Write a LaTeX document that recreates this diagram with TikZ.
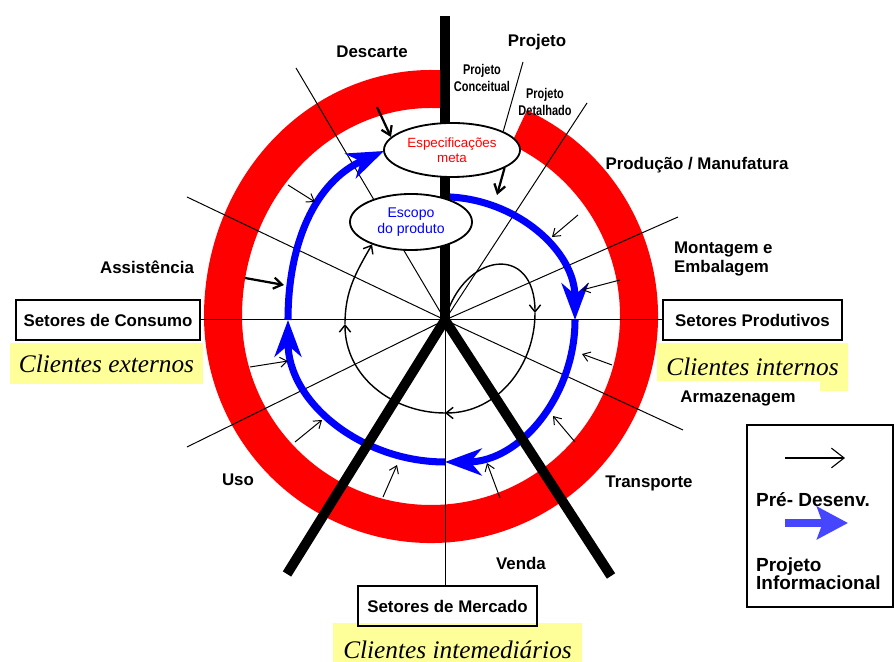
\documentclass[tikz,border=0pt]{standalone}
\usepackage{fontspec}
\setmainfont{Liberation Sans}
\newfontfamily\clientefont{Liberation Serif}
\newfontfamily\estreita[FakeStretch=0.78]{Liberation Sans}
\usetikzlibrary{%
  arrows.meta,%
  shapes.geometric,% wg. ellipse
  calc%
}
\definecolor{realce}{RGB}{255,255,153}
\definecolor{azul}{RGB}{0,0,255}
\definecolor{azulleg}{RGB}{70,70,255}

\begin{document}
\begin{tikzpicture}[
  x=0.025cm, y=0.025cm,
  font=\fontsize{12}{14}\selectfont\bfseries,
  line width=0.7pt,
  setor/.style={draw, line width=1.6pt, minimum height=1cm, inner sep=0pt},
  cliente/.style={fill=realce, inner sep=0pt, font=\fontsize{18}{20}\selectfont\clientefont\itshape},
  raio/.style={line width=0.7pt},
  haste/.style={line width=7pt},
  balao/.style={ellipse, draw, fill=white, line width=1.3pt, inner sep=0pt, align=center},
  pre/.style={-{Straight Barb[length=5pt,width=7pt]}, line width=0.7pt},
  preforte/.style={-{Straight Barb[length=6pt,width=8pt]}, line width=1.6pt},
  info/.style={azul, line width=5pt, -{Stealth[length=26pt,width=19pt,inset=8pt]}},
  laco/.style={line width=1pt, -{Straight Barb[length=5pt,width=8pt]}},
  fase/.style={font=\fontsize{10}{11.4}\selectfont\estreita\bfseries, align=center},
]
\useasboundingbox (0,0) rectangle (895,662);

% clientes
\node[cliente, minimum width=4.825cm, minimum height=1.025cm] (cliext) at (106.5,298.5) {Clientes externos};
\node[cliente, minimum width=4.775cm, minimum height=1.2cm] (cliint) at (752.5,295) {Clientes internos};
\node[cliente, minimum width=6.225cm, minimum height=1.35cm] (climed) at (457.5,12) {Clientes intemediários};
\node[fill=white, inner xsep=17pt, inner ysep=7pt] (armaz) at (738,264) {Armazenagem};

% anel vermelho
\fill[red] (431,346) ++(65:227) arc[start angle=65, end angle=-180, radius=227]
  -- ++(38,0) arc[start angle=-180, end angle=65, radius=189] -- cycle;
\fill[red] (204,346) arc[start angle=180, end angle=86, x radius=227, y radius=246]
  -- ($(431,346)+(86:189 and 208)$) arc[start angle=86, end angle=180, x radius=189, y radius=208] -- cycle;

% setores
\node[setor, minimum width=4.6cm] (consumo) at (108,342) {Setores de Consumo};
\node[setor, minimum width=4.475cm] (produtivos) at (752.5,342) {Setores Produtivos};
\node[setor, minimum width=4.475cm] (mercado) at (447.5,56) {Setores de Mercado};

% raios
\coordinate (o) at (445,342);
\draw[raio] (consumo) -- (produtivos);
\draw[raio] (o) -- (o |- mercado.north);
\foreach \px/\py in {296/594, 587/559, 678/445, 187/465, 187/215, 683/232} {
  \draw[raio] (o) -- (\px,\py);
}

% projeto informacional
\coordinate (b0) at (450,465);
\coordinate (b1) at (575,342);
\coordinate (b2) at (445,200);
\coordinate (b3) at (288,342);
\coordinate (b4) at (384,511);
\draw[info] (b0) to[out=-3,in=90] (b1);
\draw[info] (b1) to[out=-90,in=0] (b2);
\draw[info] (b2) to[out=180,in=-90] (b3);
\draw[info] (b3) to[out=90,in=204] (b4);

% hastes
\coordinate (topo) at (445,646);
\coordinate (pernaE) at (287,88);
\coordinate (pernaD) at (611,86);
\draw[haste] (pernaE) -- (o) -- (pernaD);
\draw[haste] (topo) -- (o);

% baloes
\node[balao, text=red, minimum width=3.4cm, minimum height=1.35cm,
  font=\fontsize{9.5}{10.7}\selectfont] (espec) at (452,512) {Especificações\\meta};
\node[balao, text=azul, minimum width=3.05cm, minimum height=1.4cm,
  font=\fontsize{10}{11.4}\selectfont] (escopo) at (411,440) {Escopo\\do produto};

\coordinate (pj) at (523,600);
\draw[raio] (pj) -- (espec.20);

% pre-desenvolvimento
\coordinate (l1) at (535,349);
\coordinate (l2) at (445,249);
\coordinate (l3) at (345,338);
\draw[laco] (o) to[out=75,in=90,looseness=2] (l1);
\draw[laco] (l1) to[out=-90,in=0] (l2);
\draw[laco] (l2) to[out=180,in=-90] (l3);
\draw[laco] (l3) to[out=90,in=240] (escopo.-150);

\draw[preforte] (377,555) -- (espec.168);
\draw[preforte] (espec.-19) -- (497,467);
\draw[preforte] (245,384) -- (284,377);
\foreach \ini/\fim in {{578,447}/{552,425}, {620,382}/{582,372}, {612,297}/{582,308},
  {575,220}/{553,246}, {500,164}/{487,199}, {383,165}/{397,197},
  {295,220}/{322,242}, {250,295}/{288,301}, {288,477}/{315,460}} {
  \draw[pre] (\ini) -- (\fim);
}

% rotulos
\node (descarte) at (372,610) {Descarte};
\node (projeto) at (537,620) {Projeto};
\node[fase] (conceitual) at (482,584) {Projeto\\Conceitual};
\node[fase] (detalhado) at (545,560) {Projeto\\Detalhado};
\node (producao) at (697,497) {Produção / Manufatura};
\node[anchor=west, align=left] (montagem) at (669,403) {Montagem e\\Embalagem};
\node (transporte) at (649,179) {Transporte};
\node (venda) at (521,99) {Venda};
\node (uso) at (238,182) {Uso};
\node (assist) at (147,395) {Assistência};

% legenda
\node[draw, line width=1.6pt, minimum width=3.65cm, minimum height=4.55cm] (legenda) at (820,146) {};
\coordinate (lpa) at (785,204);
\coordinate (lpb) at (845,204);
\coordinate (lia) at (785,139);
\coordinate (lib) at (848,139);
\draw[line width=0.8pt, -{Straight Barb[length=9pt,width=14pt]}] (lpa) -- (lpb);
\draw[azulleg, line width=5pt, -{Stealth[length=22pt,width=23pt,inset=4pt]}] (lia) -- (lib);
\node[anchor=west, font=\fontsize{13.5}{15}\selectfont\bfseries] (predes) at (751,162) {Pré- Desenv.};
\node[anchor=west, align=left, font=\fontsize{13.5}{12.8}\selectfont\bfseries] (projinf) at (751,88) {Projeto\\Informacional};

\end{tikzpicture}
\end{document}
